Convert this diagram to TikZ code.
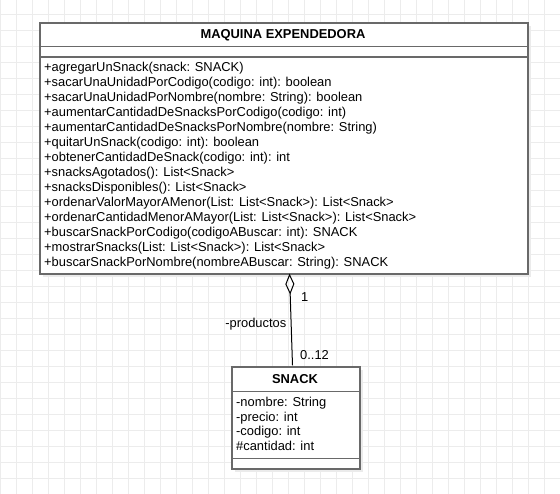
\documentclass[tikz,border=0pt]{standalone}
\usepackage{fontspec}
\setmainfont{Liberation Sans}
\usetikzlibrary{arrows.meta}
\definecolor{gridc}{RGB}{236,236,236}
\definecolor{shadowc}{RGB}{235,235,235}
\definecolor{boxc}{RGB}{105,105,105}
\tikzset{
  umlbox/.style={draw=boxc, line width=1.6bp, fill=white, inner sep=0pt, anchor=north west},
  shadowbox/.style={fill=shadowc, draw=none, inner sep=0pt, anchor=north west},
  sepline/.style={draw=boxc, line width=1.6bp},
  member/.style={anchor=base west, inner sep=0pt, font=\fontsize{12.9bp}{15bp}\selectfont},
  titletext/.style={anchor=base, inner sep=0pt, font=\fontsize{12.9bp}{15bp}\selectfont\bfseries},
  lbl/.style={inner sep=0pt, font=\fontsize{12.9bp}{15bp}\selectfont},
  assoc/.style={draw=black, line width=1bp, -{Diamond[open, length=21bp, width=9bp]}}
}
\begin{document}
\begin{tikzpicture}[x=1bp,y=-1bp]
\useasboundingbox (0,0) rectangle (560,494);
\fill[white] (0,0) rectangle (560,494);
% grid
\foreach \i in {0,...,35} {\draw[gridc, line width=0.8bp] (16*\i,0) -- (16*\i,494);}
\foreach \j in {1,...,31} {\draw[gridc, line width=0.8bp] (0,16*\j-2) -- (560,16*\j-2);}

% main class
\node[shadowbox, minimum width=488bp, minimum height=251bp] (maqsh) at (43,26) {};
\node[umlbox, minimum width=488bp, minimum height=251bp] (maq) at (39,22) {};
\draw[sepline] (39,46.5) -- (527,46.5);
\draw[sepline] (39,57) -- (527,57);
\node[titletext] (maqt) at (283,38.6) {MAQUINA EXPENDEDORA};
\node[member] (m1) at (44,71.7) {+agregarUnSnack(snack: SNACK)};
\node[member] (m2) at (44,86.7) {+sacarUnaUnidadPorCodigo(codigo: int): boolean};
\node[member] (m3) at (44,101.7) {+sacarUnaUnidadPorNombre(nombre: String): boolean};
\node[member] (m4) at (44,116.7) {+aumentarCantidadDeSnacksPorCodigo(codigo: int)};
\node[member] (m5) at (44,131.7) {+aumentarCantidadDeSnacksPorNombre(nombre: String)};
\node[member] (m6) at (44,146.7) {+quitarUnSnack(codigo: int): boolean};
\node[member] (m7) at (44,161.7) {+obtenerCantidadDeSnack(codigo: int): int};
\node[member] (m8) at (44,176.7) {+snacksAgotados(): List<Snack>};
\node[member] (m9) at (44,191.7) {+snacksDisponibles(): List<Snack>};
\node[member] (m10) at (44,206.7) {+ordenarValorMayorAMenor(List: List<Snack>): List<Snack>};
\node[member] (m11) at (44,221.7) {+ordenarCantidadMenorAMayor(List: List<Snack>): List<Snack>};
\node[member] (m12) at (44,236.7) {+buscarSnackPorCodigo(codigoABuscar: int): SNACK};
\node[member] (m13) at (44,251.7) {+mostrarSnacks(List: List<Snack>): List<Snack>};
\node[member] (m14) at (44,266.7) {+buscarSnackPorNombre(nombreABuscar: String): SNACK};

% snack class
\node[shadowbox, minimum width=128bp, minimum height=102bp] (snacksh) at (235,370) {};
\node[umlbox, minimum width=128bp, minimum height=102bp] (snack) at (231,366) {};
\draw[sepline] (231,391.5) -- (359,391.5);
\draw[sepline] (231,458.5) -- (359,458.5);
\node[titletext] (snackt) at (295,383) {SNACK};
\node[member] (a1) at (236,406.7) {-nombre: String};
\node[member] (a2) at (236,421.2) {-precio: int};
\node[member] (a3) at (236,435.7) {-codigo: int};
\node[member] (a4) at (236,450.2) {\#cantidad: int};

% association
\coordinate (dtop) at (289.5,273.6);
\coordinate (stop) at (292.5,365.4);
\draw[assoc] (stop) -- (dtop);
\node[lbl, anchor=base west] (l1) at (301,301.5) {1};
\node[lbl, anchor=base east] (lprod) at (286.5,327.5) {-productos};
\node[lbl, anchor=base west] (l012) at (300,359.5) {0..12};
\end{tikzpicture}
\end{document}
